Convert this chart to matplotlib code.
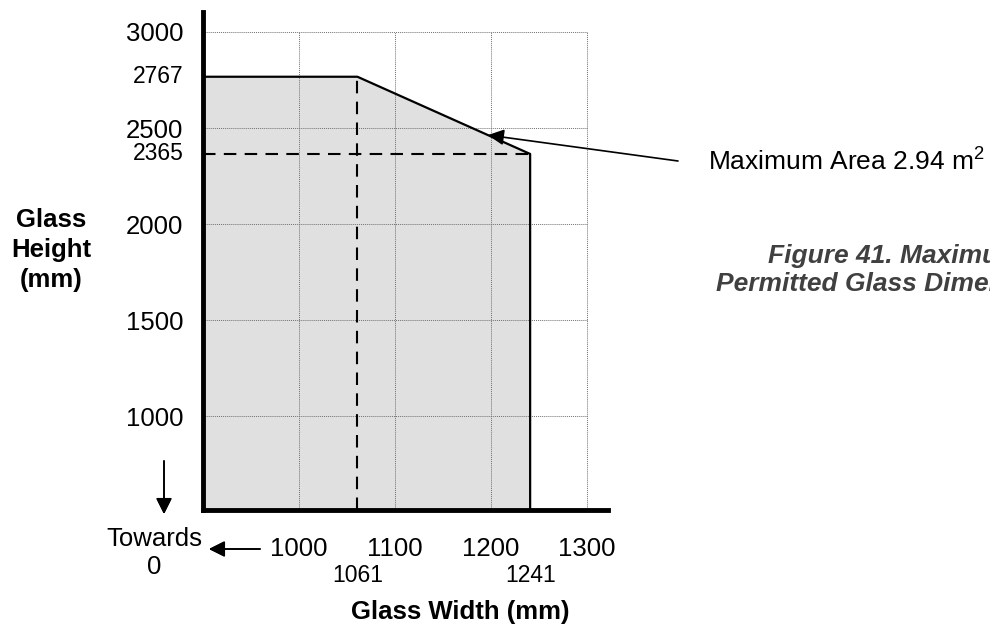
import matplotlib.pyplot as plt
import numpy as np

plt.rcParams['font.family'] = ['Liberation Sans', 'DejaVu Sans']
plt.rcParams['mathtext.fontset'] = 'custom'
plt.rcParams['mathtext.rm'] = 'Liberation Sans'

# corner points of the permitted glass area
corner_widths = [1061, 1241]
corner_heights = [2767, 2365]
x_ticks = [1000, 1100, 1200, 1300]
y_ticks = [1000, 1500, 2000, 2500, 3000]
max_area = 2.94

x_min, x_max = 900, 1322
y_min, y_max = 510, 3104

fig = plt.figure(figsize=(9.9, 6.33), dpi=100)
ax = fig.add_axes([0.205, 0.194, 0.409, 0.787])
ax.set_xlim(x_min, x_max)
ax.set_ylim(y_min, y_max)

# shaded region
px = [x_min, x_min, corner_widths[0], corner_widths[1], corner_widths[1]]
py = [y_min, corner_heights[0], corner_heights[0], corner_heights[1], y_min]
ax.fill(px, py, color='#e0e0e0', zorder=1, lw=0)
ax.plot(px[1:], py[1:], color='black', lw=1.6, zorder=4)

# grid
ax.hlines(y_ticks, x_min, x_ticks[-1], colors='#707070', lw=0.7,
          linestyles=(0, (1, 1)), zorder=2)
ax.vlines(x_ticks, y_min, y_ticks[-1], colors='#707070', lw=0.7,
          linestyles=(0, (1, 1)), zorder=2)

# dashed reference lines
ax.plot([corner_widths[0], corner_widths[0]], [y_min, corner_heights[0]],
        color='black', lw=1.5, dashes=(6, 4), zorder=3)
ax.plot([x_min, corner_widths[1]], [corner_heights[1], corner_heights[1]],
        color='black', lw=1.5, dashes=(6, 4), zorder=3)

for s in ['top', 'right']:
    ax.spines[s].set_visible(False)
for s in ['left', 'bottom']:
    ax.spines[s].set_linewidth(3.5)
    ax.spines[s].set_zorder(5)

ax.set_xticks(x_ticks)
ax.set_xticklabels([str(v) for v in x_ticks], fontsize=18.5)
ax.set_yticks(y_ticks)
ax.set_yticklabels([str(v) for v in y_ticks], fontsize=18.5)
ax.tick_params(length=0)
ax.tick_params(axis='x', pad=19)
ax.tick_params(axis='y', pad=14)

# extra labels for the corner values
for w in corner_widths:
    ax.annotate(str(w), (w, y_min), xytext=(0, -47), textcoords='offset points',
                ha='center', va='center', fontsize=16.5, annotation_clip=False)
for h in corner_heights:
    ax.annotate(str(h), (x_min, h), xytext=(-14, 0), textcoords='offset points',
                ha='right', va='center', fontsize=16.5, annotation_clip=False)

# axis titles
fig.text(51 / 990, 1 - 250 / 633, 'Glass\nHeight\n(mm)', ha='center', va='center',
         fontsize=18.5, fontweight='bold', linespacing=1.3)
fig.text(460 / 990, 1 - 612 / 633, 'Glass Width (mm)', ha='center', va='center',
         fontsize=18.5, fontweight='bold')
fig.text(154 / 990, 1 - 553 / 633, 'Towards\n0', ha='center', va='center',
         fontsize=18.5, linespacing=1.25)

# break arrows
fig.add_artist(plt.annotate('', xy=(164 / 990, 1 - 514 / 633), xytext=(164 / 990, 1 - 461 / 633),
                            xycoords='figure fraction', textcoords='figure fraction',
                            arrowprops=dict(arrowstyle='-|>', color='black', lw=1.2,
                                            mutation_scale=24, shrinkA=0, shrinkB=0)))
fig.add_artist(plt.annotate('', xy=(209 / 990, 1 - 549 / 633), xytext=(260 / 990, 1 - 549 / 633),
                            xycoords='figure fraction', textcoords='figure fraction',
                            arrowprops=dict(arrowstyle='-|>', color='black', lw=1.2,
                                            mutation_scale=24, shrinkA=0, shrinkB=0)))

# maximum area pointer
tip_x = 1197
tip_y = np.interp(tip_x, corner_widths, corner_heights)
ax.annotate('', xy=(tip_x, tip_y), xytext=(678 / 990, 1 - 161 / 633),
            textcoords='figure fraction', annotation_clip=False,
            arrowprops=dict(arrowstyle='-|>', color='black', lw=1.2,
                            mutation_scale=24, shrinkA=0, shrinkB=0), zorder=6)
fig.text(708 / 990, 1 - 161 / 633, 'Maximum Area %.2f m$^2$' % max_area,
         ha='left', va='center', fontsize=19)

# caption runs past the right edge, as in the source page
fig.text(895 / 990, 1 - 270 / 633, 'Figure 41. Maximum\nPermitted Glass Dimensions',
         ha='center', va='center', fontsize=19, fontweight='bold', style='italic',
         color='#404040', linespacing=1.18)

fig.savefig('out.png', dpi=100)
